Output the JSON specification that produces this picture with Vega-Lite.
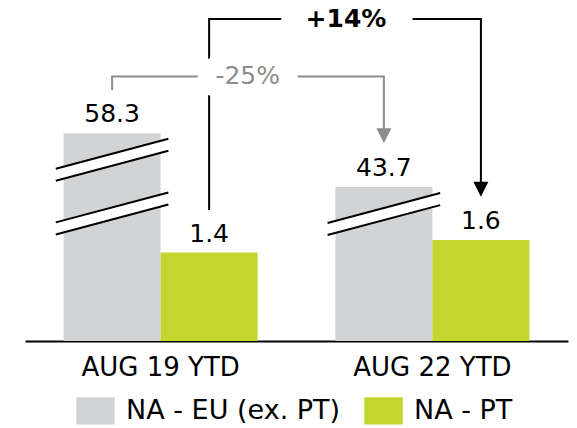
{
  "$schema": "https://vega.github.io/schema/vega-lite/v6.json",
  "width": 543,
  "height": 341,
  "autosize": {"type": "none"},
  "padding": {"left": 25, "top": 0, "right": 9, "bottom": 87},
  "background": "white",
  "config": {
    "view": {"stroke": null},
    "font": "DejaVu Sans",
    "axis": {
      "domainColor": "black",
      "domainWidth": 2,
      "labelFont": "DejaVu Sans",
      "labelFontSize": 26,
      "labelColor": "black",
      "ticks": false,
      "tickSize": 0,
      "labelPadding": 13,
      "grid": false
    }
  },
  "datasets": {
    "bars": [
      {"period": "AUG 19 YTD", "series": "NA - EU (ex. PT)", "value": 58.3, "shown": 3.29},
      {"period": "AUG 19 YTD", "series": "NA - PT", "value": 1.4, "shown": 1.4},
      {"period": "AUG 22 YTD", "series": "NA - EU (ex. PT)", "value": 43.7, "shown": 2.44},
      {"period": "AUG 22 YTD", "series": "NA - PT", "value": 1.6, "shown": 1.6}
    ],
    "euPath": [
      {"period": "AUG 19 YTD", "step": 1, "level": 3.975},
      {"period": "AUG 19 YTD", "step": 2, "level": 4.189},
      {"period": "AUG 22 YTD", "step": 3, "level": 4.189},
      {"period": "AUG 22 YTD", "step": 4, "level": 3.26}
    ],
    "ptPath": [
      {"period": "AUG 19 YTD", "step": 1, "level": 2.074},
      {"period": "AUG 19 YTD", "step": 2, "level": 5.1},
      {"period": "AUG 22 YTD", "step": 3, "level": 5.1},
      {"period": "AUG 22 YTD", "step": 4, "level": 2.42}
    ],
    "euArrow": [{"period": "AUG 22 YTD", "level": 3.249}],
    "ptArrow": [{"period": "AUG 22 YTD", "level": 2.404}],
    "breaks": [
      {"period": "AUG 19 YTD", "level": 2.87},
      {"period": "AUG 19 YTD", "level": 2.02},
      {"period": "AUG 22 YTD", "level": 2.01}
    ],
    "euChange": [{"period": "AUG 19 YTD", "level": 4.189, "label": "-25%"}],
    "ptChange": [{"period": "AUG 19 YTD", "level": 5.1, "label": "+14%"}]
  },
  "layer": [
    {
      "data": {"name": "bars"},
      "mark": {"type": "bar"},
      "encoding": {
        "x": {
          "field": "period",
          "type": "nominal",
          "scale": {"paddingInner": 0.286, "paddingOuter": 0.142},
          "axis": {"title": null, "labelAngle": 0}
        },
        "xOffset": {
          "field": "series",
          "type": "nominal",
          "scale": {"paddingInner": 0, "paddingOuter": 0}
        },
        "y": {
          "field": "shown",
          "type": "quantitative",
          "scale": {"domain": [0, 5.4], "nice": false, "zero": true},
          "axis": null
        },
        "color": {
          "field": "series",
          "type": "nominal",
          "scale": {"domain": ["NA - EU (ex. PT)", "NA - PT"], "range": ["#d1d3d4", "#c1d72f"]},
          "legend": {
            "title": null,
            "orient": "none",
            "legendX": 51,
            "legendY": 391,
            "direction": "horizontal",
            "symbolType": "M-1,-0.71H1V0.71H-1Z",
            "symbolSize": 1482,
            "symbolStrokeWidth": 0,
            "symbolOpacity": 1,
            "labelFont": "DejaVu Sans",
            "labelFontSize": 27,
            "labelColor": "black",
            "labelOffset": 11,
            "labelLimit": 400,
            "columnPadding": 23,
            "padding": 0
          }
        }
      }
    },
    {
      "data": {"name": "breaks"},
      "mark": {"type": "point", "shape": "M-1,0.159L1,-0.373L1,-0.159L-1,0.373Z", "filled": true, "color": "white", "opacity": 1, "size": 12679, "strokeWidth": 0},
      "encoding": {
        "x": {"field": "period", "type": "nominal", "bandPosition": 0.25},
        "y": {"field": "level", "type": "quantitative"}
      }
    },
    {
      "data": {"name": "breaks"},
      "mark": {"type": "point", "shape": "M-1,0.159L1,-0.373M-1,0.373L1,-0.159", "filled": false, "color": "black", "opacity": 1, "size": 12679, "strokeWidth": 2},
      "encoding": {
        "x": {"field": "period", "type": "nominal", "bandPosition": 0.25},
        "y": {"field": "level", "type": "quantitative"}
      }
    },
    {
      "data": {"name": "bars"},
      "mark": {"type": "text", "fontSize": 25, "font": "DejaVu Sans", "color": "black", "baseline": "alphabetic", "align": "center", "dy": -11},
      "encoding": {
        "x": {"field": "period", "type": "nominal"},
        "xOffset": {"field": "series", "type": "nominal"},
        "y": {"field": "shown", "type": "quantitative"},
        "text": {"field": "value", "type": "quantitative", "format": ".1f"}
      }
    },
    {
      "data": {"name": "euPath"},
      "mark": {"type": "line", "color": "#8c8c8c", "strokeWidth": 2, "strokeJoin": "miter", "strokeCap": "butt"},
      "encoding": {
        "x": {"field": "period", "type": "nominal", "bandPosition": 0.25},
        "y": {"field": "level", "type": "quantitative"},
        "order": {"field": "step", "type": "quantitative"}
      }
    },
    {
      "data": {"name": "ptPath"},
      "mark": {"type": "line", "color": "black", "strokeWidth": 2, "strokeJoin": "miter", "strokeCap": "butt"},
      "encoding": {
        "x": {"field": "period", "type": "nominal", "bandPosition": 0.75},
        "y": {"field": "level", "type": "quantitative"},
        "order": {"field": "step", "type": "quantitative"}
      }
    },
    {
      "data": {"name": "euArrow"},
      "mark": {"type": "point", "shape": "M-1,-1L1,-1L0,1Z", "filled": true, "color": "#8c8c8c", "opacity": 1, "size": 225, "strokeWidth": 0},
      "encoding": {
        "x": {"field": "period", "type": "nominal", "bandPosition": 0.25},
        "y": {"field": "level", "type": "quantitative"}
      }
    },
    {
      "data": {"name": "ptArrow"},
      "mark": {"type": "point", "shape": "M-1,-1L1,-1L0,1Z", "filled": true, "color": "black", "opacity": 1, "size": 225, "strokeWidth": 0},
      "encoding": {
        "x": {"field": "period", "type": "nominal", "bandPosition": 0.75},
        "y": {"field": "level", "type": "quantitative"}
      }
    },
    {
      "data": {"name": "euChange"},
      "mark": {"type": "text", "fontSize": 25, "font": "DejaVu Sans", "fill": "white", "stroke": "white", "strokeWidth": 38, "strokeJoin": "round", "baseline": "middle", "align": "center"},
      "encoding": {
        "x": {"field": "period", "type": "nominal", "bandPosition": 0.949},
        "y": {"field": "level", "type": "quantitative"},
        "text": {"field": "label", "type": "nominal"}
      }
    },
    {
      "data": {"name": "euChange"},
      "mark": {"type": "text", "fontSize": 25, "font": "DejaVu Sans", "color": "#8c8c8c", "baseline": "middle", "align": "center"},
      "encoding": {
        "x": {"field": "period", "type": "nominal", "bandPosition": 0.949},
        "y": {"field": "level", "type": "quantitative"},
        "text": {"field": "label", "type": "nominal"}
      }
    },
    {
      "data": {"name": "ptChange"},
      "mark": {"type": "text", "fontSize": 25, "fontWeight": "bold", "font": "DejaVu Sans", "fill": "white", "stroke": "white", "strokeWidth": 54, "strokeJoin": "round", "baseline": "middle", "align": "center"},
      "encoding": {
        "x": {"field": "period", "type": "nominal", "bandPosition": 1.455},
        "y": {"field": "level", "type": "quantitative"},
        "text": {"field": "label", "type": "nominal"}
      }
    },
    {
      "data": {"name": "ptChange"},
      "mark": {"type": "text", "fontSize": 25, "fontWeight": "bold", "font": "DejaVu Sans", "color": "black", "baseline": "middle", "align": "center"},
      "encoding": {
        "x": {"field": "period", "type": "nominal", "bandPosition": 1.455},
        "y": {"field": "level", "type": "quantitative"},
        "text": {"field": "label", "type": "nominal"}
      }
    }
  ]
}
